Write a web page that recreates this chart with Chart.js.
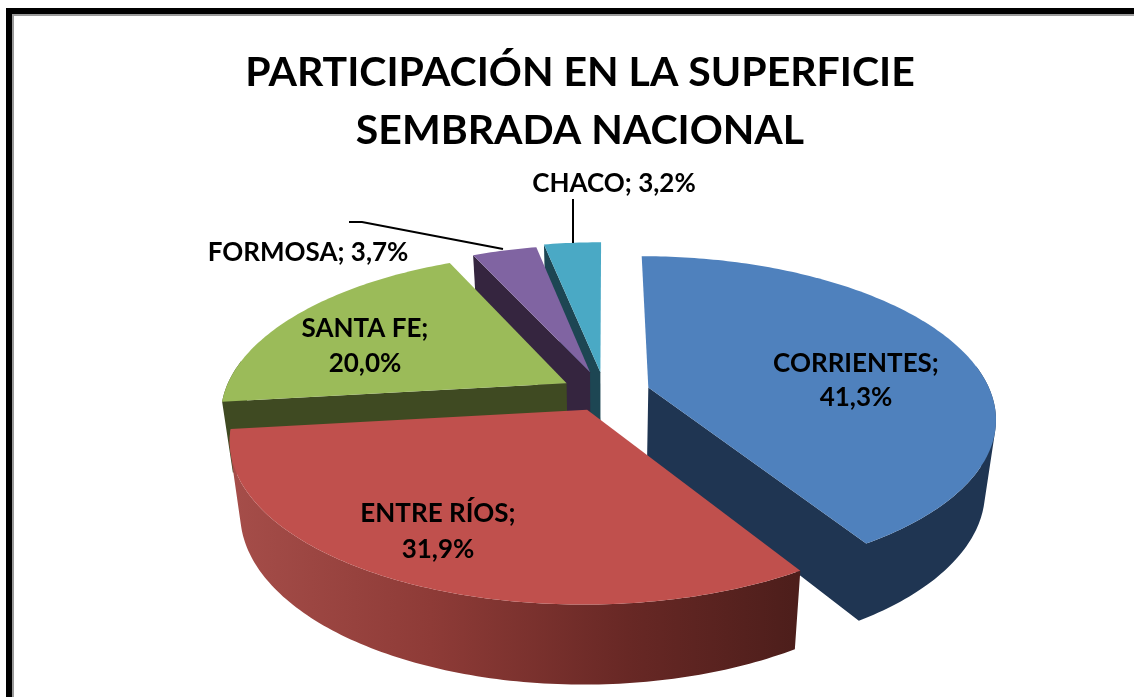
<!DOCTYPE html>
<html><head><meta charset="utf-8">
<style>html,body{margin:0;padding:0;background:#fff}canvas{display:block}</style>
<script src="https://cdn.jsdelivr.net/npm/chart.js@4"></script>
</head><body><canvas id="c" width="1134" height="697"></canvas>
<script>
const titleLines = ['PARTICIPACIÓN EN LA SUPERFICIE', 'SEMBRADA NACIONAL'];
const categories = ['CORRIENTES', 'ENTRE RÍOS', 'SANTA FE', 'FORMOSA', 'CHACO'];
const shares = [41.3, 31.9, 20.0, 3.7, 3.2];
const topColors = ['#4F81BD', '#C0504D', '#9BBB59', '#8064A2', '#4AA9C5'];
const wallColors = ['#1F3552', '#4D1E1B', '#3F4A22', '#35253F', '#1D4653'];
const explode = [45, 41, 44, 48, 46];
const sliceScale = [0.97, 1, 0.965, 0.94, 0.96];

const FONT = 'Lato, sans-serif';
const TILT = 0.455, PERSP = 0.18, SHIFT_X = 25;
const DRAW_ORDER = [0, 4, 3, 2, 1];
const LABELS = [
  {x: 856, y: 372, lines: 2, gap: 34},
  {x: 438, y: 522, lines: 2, gap: 36},
  {x: 365, y: 337, lines: 2, gap: 35},
  {x: 308, y: 261, lines: 1},
  {x: 614, y: 192, lines: 1}
];
const LEADERS = [[[349, 222], [362, 222], [503, 249]], [[573, 199], [573, 243]]];

function pct(v) { return v.toFixed(1).replace('.', ',') + '%'; }

const pie3d = {
  id: 'pie3d',
  beforeDraw(chart) {
    const c = chart.ctx;
    c.save();
    c.fillStyle = '#fff'; c.fillRect(0, 0, 1134, 697);
    c.fillStyle = '#000';
    c.fillRect(6, 8, 1128, 6); c.fillRect(6, 8, 6, 689);
    c.fillStyle = '#9a9a9a';
    c.fillRect(12, 14, 1122, 2); c.fillRect(12, 14, 2, 683);
    c.restore();
  },
  beforeDatasetDraw(chart) {
    const c = chart.ctx, arcs = chart.getDatasetMeta(0).data;
    const lower = (p, o) => [o.x + (p[0] - o.x) * 0.972, o.y + 70.3 + (p[1] - o.y) * 1.046];
    DRAW_ORDER.forEach(i => {
      const a = arcs[i], R = a.outerRadius * sliceScale[i], d = a.options.offset;
      const o = {x: a.x + SHIFT_X, y: a.y};
      const mid = (a.startAngle + a.endAngle) / 2;
      const dx = d * Math.cos(mid), ay = o.y + d * Math.sin(mid) * TILT;
      const proj = phi => {
        const s = 1 / (1 - PERSP * Math.sin(phi));
        return [o.x + (dx + R * Math.cos(phi)) * s, ay + R * Math.sin(phi) * TILT * s];
      };
      const n = Math.max(8, Math.ceil((a.endAngle - a.startAngle) * 60));
      const rim = [], front = [];
      for (let k = 0; k <= n; k++) {
        const phi = a.startAngle + (a.endAngle - a.startAngle) * k / n;
        rim.push(proj(phi));
        if (Math.sin(phi) > -0.15) front.push(proj(phi));
      }
      const apex = [o.x + dx, ay];
      const addPoly = pts => {
        let area = 0;
        pts.forEach((p, j) => { const q = pts[(j + 1) % pts.length]; area += p[0] * q[1] - q[0] * p[1]; });
        const list = area < 0 ? pts.slice().reverse() : pts;
        list.forEach((p, j) => j ? c.lineTo(p[0], p[1]) : c.moveTo(p[0], p[1]));
        c.closePath();
      };
      const lowApex = lower(apex, o);
      const thS = a.startAngle + Math.PI / 2, thE = a.endAngle + Math.PI / 2;
      c.fillStyle = wallColors[i];
      c.beginPath();
      if (Math.sin(thS) < -1e-3) addPoly([apex, rim[0], lower(rim[0], o), lowApex]);
      if (Math.sin(thE) > 1e-3) addPoly([apex, rim[n], lower(rim[n], o), lowApex]);
      if (i !== 1) {
        for (let k = 0; k + 1 < front.length; k++) addPoly([front[k], front[k + 1], lower(front[k + 1], o), lower(front[k], o)]);
      }
      c.fill();
      if (i === 1) {
        const g = c.createLinearGradient(235, 0, 795, 0);
        g.addColorStop(0, '#A54D49'); g.addColorStop(0.35, '#8E3B37');
        g.addColorStop(0.7, '#682825'); g.addColorStop(1, '#4D1E1B');
        c.fillStyle = g;
        c.beginPath();
        for (let k = 0; k + 1 < front.length; k++) addPoly([front[k], front[k + 1], lower(front[k + 1], o), lower(front[k], o)]);
        c.fill();
      }
      c.beginPath();
      addPoly([apex].concat(rim));
      c.fillStyle = topColors[i];
      c.fill();
    });
    return false;
  },
  afterDraw(chart) {
    const c = chart.ctx;
    c.save();
    c.strokeStyle = '#000'; c.lineWidth = 2;
    LEADERS.forEach(l => {
      c.beginPath(); l.forEach((p, j) => j ? c.lineTo(p[0], p[1]) : c.moveTo(p[0], p[1])); c.stroke();
    });
    c.fillStyle = '#000'; c.textAlign = 'center'; c.textBaseline = 'alphabetic';
    c.font = 'bold 26px ' + FONT;
    LABELS.forEach((l, i) => {
      if (l.lines === 2) {
        c.fillText(categories[i] + ';', l.x, l.y);
        c.fillText(pct(shares[i]), l.x, l.y + l.gap);
      } else c.fillText(categories[i] + '; ' + pct(shares[i]), l.x, l.y);
    });
    c.restore();
  }
};

new Chart(document.getElementById('c'), {
  type: 'pie',
  data: {labels: categories, datasets: [{data: shares, backgroundColor: topColors, borderWidth: 0, offset: explode}]},
  plugins: [pie3d],
  options: {
    responsive: false, animation: false, rotation: 0, radius: 351,
    layout: {padding: {left: 26, top: 44, right: 0, bottom: 71}},
    plugins: {
      legend: {display: false}, tooltip: {enabled: false},
      title: {display: true, text: titleLines, color: '#000', padding: 0,
        font: {family: FONT, size: 41, weight: 'bold', lineHeight: 1.415}}
    }
  }
});
</script></body></html>
